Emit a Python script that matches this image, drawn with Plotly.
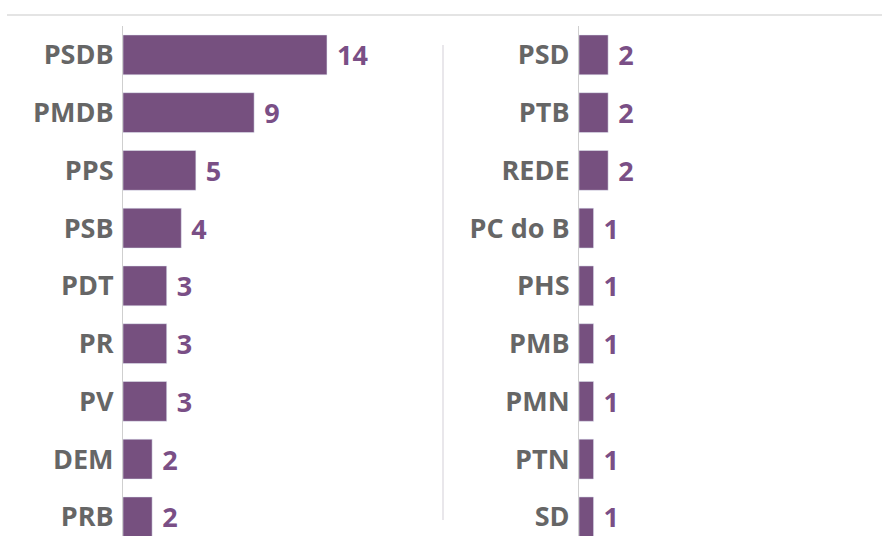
import plotly.graph_objects as go

left_parties = ["PSDB", "PMDB", "PPS", "PSB", "PDT", "PR", "PV", "DEM", "PRB"]
left_values = [14, 9, 5, 4, 3, 3, 3, 2, 2]
right_parties = ["PSD", "PTB", "REDE", "PC do B", "PHS", "PMB", "PMN", "PTN", "SD"]
right_values = [2, 2, 2, 1, 1, 1, 1, 1, 1]

W, H = 882, 536
BAR = "#76507f"
TXT = "#7a4f86"
LBL = "#666666"
FONT = "Open Sans"
px_per_unit = 14.57

fig = go.Figure()
fig.add_trace(go.Bar(
    x=left_values, y=left_parties, orientation="h", marker_color=BAR,
    width=0.69, text=left_values, texttemplate=" %{x}", textposition="outside",
    cliponaxis=False,
    textfont=dict(family=FONT, size=27, color=TXT, weight=700),
    xaxis="x", yaxis="y", hoverinfo="skip"))
fig.add_trace(go.Bar(
    x=right_values, y=right_parties, orientation="h", marker_color=BAR,
    width=0.69, text=right_values, texttemplate=" %{x}", textposition="outside",
    cliponaxis=False,
    textfont=dict(family=FONT, size=27, color=TXT, weight=700),
    xaxis="x2", yaxis="y2", hoverinfo="skip"))

l0, l1 = 123, 440
r0, r1 = 579, 882
top_px = 26
step = 57.75
y_bottom = (H - top_px) / step - 0.5
ydom = [0, 1 - top_px / H]

axis_common = dict(showgrid=False, zeroline=False, showticklabels=False, fixedrange=True,
                   automargin=False)
yax_common = dict(type="category", range=[y_bottom, -0.5], domain=ydom, automargin=False,
                  showgrid=False, zeroline=False, showline=True, linecolor="#cfcfcf",
                  linewidth=1, ticks="", ticklabelstandoff=3,
                  tickfont=dict(family=FONT, size=27, color=LBL, weight=700))

fig.update_layout(
    width=W, height=H, margin=dict(l=0, r=0, t=0, b=0, autoexpand=False),
    paper_bgcolor="white", plot_bgcolor="white", showlegend=False,
    xaxis=dict(domain=[l0 / W, l1 / W], range=[0, (l1 - l0) / px_per_unit], anchor="y", **axis_common),
    yaxis=dict(anchor="x", **yax_common),
    xaxis2=dict(domain=[r0 / W, r1 / W], range=[0, (r1 - r0) / px_per_unit], anchor="y2", **axis_common),
    yaxis2=dict(anchor="x2", **yax_common),
    shapes=[
        dict(type="line", xref="paper", yref="paper", x0=7 / W, x1=1, y0=1 - 15 / H, y1=1 - 15 / H,
             line=dict(color="#e4e4e4", width=2)),
        dict(type="line", xref="paper", yref="paper", x0=443 / W, x1=443 / W, y0=1 - 45 / H, y1=1 - 520 / H,
             line=dict(color="#e2dfe5", width=1.5)),
    ],
)

fig.write_html("out.html", config={"displayModeBar": False},
               post_script="document.body.style.margin='0';document.body.style.overflow='hidden';")
